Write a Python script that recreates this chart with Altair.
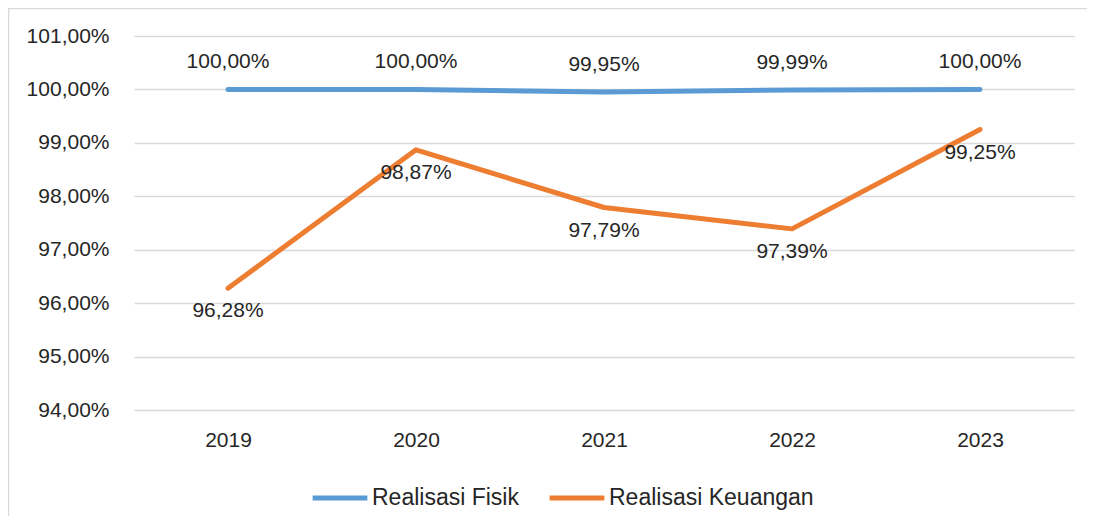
import altair as alt
import pandas as pd

years = ["2019", "2020", "2021", "2022", "2023"]
fisik = [100.00, 100.00, 99.95, 99.99, 100.00]
keuangan = [96.28, 98.87, 97.79, 97.39, 99.25]
series_names = ["Realisasi Fisik", "Realisasi Keuangan"]
series_colors = ["#5B9BD5", "#ED7D31"]
y_ticks = [94, 95, 96, 97, 98, 99, 100, 101]

rows = []
for i, y in enumerate(years):
    rows.append({"year": y, "series": series_names[0], "value": fisik[i]})
    rows.append({"year": y, "series": series_names[1], "value": keuangan[i]})
df = pd.DataFrame(rows)

FONT = "Liberation Sans, Arial, sans-serif"
FS = 21
W, H = 940, 374

x_enc = alt.X("year:N", sort=years, scale=alt.Scale(type="point", padding=0.5),
              axis=alt.Axis(title=None, domain=False, ticks=False, grid=False,
                            labelAngle=0, labelPadding=19, labelFontSize=FS,
                            labelColor="#262626", labelFont=FONT))
y_enc = alt.Y("value:Q", scale=alt.Scale(domain=[94, 101], nice=False, zero=False),
              axis=alt.Axis(title=None, domain=False, ticks=False, values=y_ticks,
                            gridColor="#D9D9D9", gridWidth=1.5, labelPadding=25,
                            labelFontSize=FS, labelColor="#262626", labelFont=FONT,
                            labelExpr="replace(format(datum.value, '.2f'), '.', ',') + '%'"))

color_enc = alt.Color("series:N", sort=series_names,
                      scale=alt.Scale(domain=series_names, range=series_colors),
                      legend=alt.Legend(title=None, orient="none", direction="horizontal",
                                        legendX=176, legendY=432,
                                        symbolType="stroke", symbolSize=3000,
                                        symbolStrokeWidth=5, labelFontSize=23,
                                        labelFont=FONT, labelColor="#262626",
                                        labelLimit=0, labelOffset=2, columnPadding=20))

base = alt.Chart(df)
one_row = "datum.year == '2019' && datum.series == 'Realisasi Fisik'"

border_top = base.mark_rule(stroke="#D9D9D9", strokeWidth=1.5, clip=False).encode(
    x=alt.value(-126), x2=alt.value(1000), y=alt.value(-27.5)
).transform_filter(one_row)
border_left = base.mark_rule(stroke="#D9D9D9", strokeWidth=1.5, clip=False).encode(
    x=alt.value(-125.5), y=alt.value(-28), y2=alt.value(560)
).transform_filter(one_row)

lines = base.mark_line(strokeWidth=5, strokeCap="round", strokeJoin="round").encode(
    x=x_enc, y=y_enc, color=color_enc
)

label_expr = "replace(format(datum.value, '.2f'), '.', ',') + '%'"

labels_fisik = base.transform_filter(f"datum.series == '{series_names[0]}'").transform_calculate(
    lbl=label_expr
).mark_text(dy=-27, fontSize=FS, font=FONT, color="#262626").encode(
    x=alt.X("year:N", sort=years), y="value:Q", text="lbl:N"
)

labels_keu = base.transform_filter(f"datum.series == '{series_names[1]}'").transform_calculate(
    lbl=label_expr
).mark_text(dy=23, fontSize=FS, font=FONT, color="#262626").encode(
    x=alt.X("year:N", sort=years), y="value:Q", text="lbl:N"
)

chart = alt.layer(border_top, border_left, lines, labels_fisik, labels_keu).properties(
    width=W, height=H,
    background="white",
    autosize=alt.AutoSizeParams(type="none"),
    padding={"left": 126, "top": 28, "right": 13, "bottom": 106},
).configure_view(strokeWidth=0, stroke="transparent")

chart.save("out.html", embed_options={"renderer": "svg", "actions": False})
